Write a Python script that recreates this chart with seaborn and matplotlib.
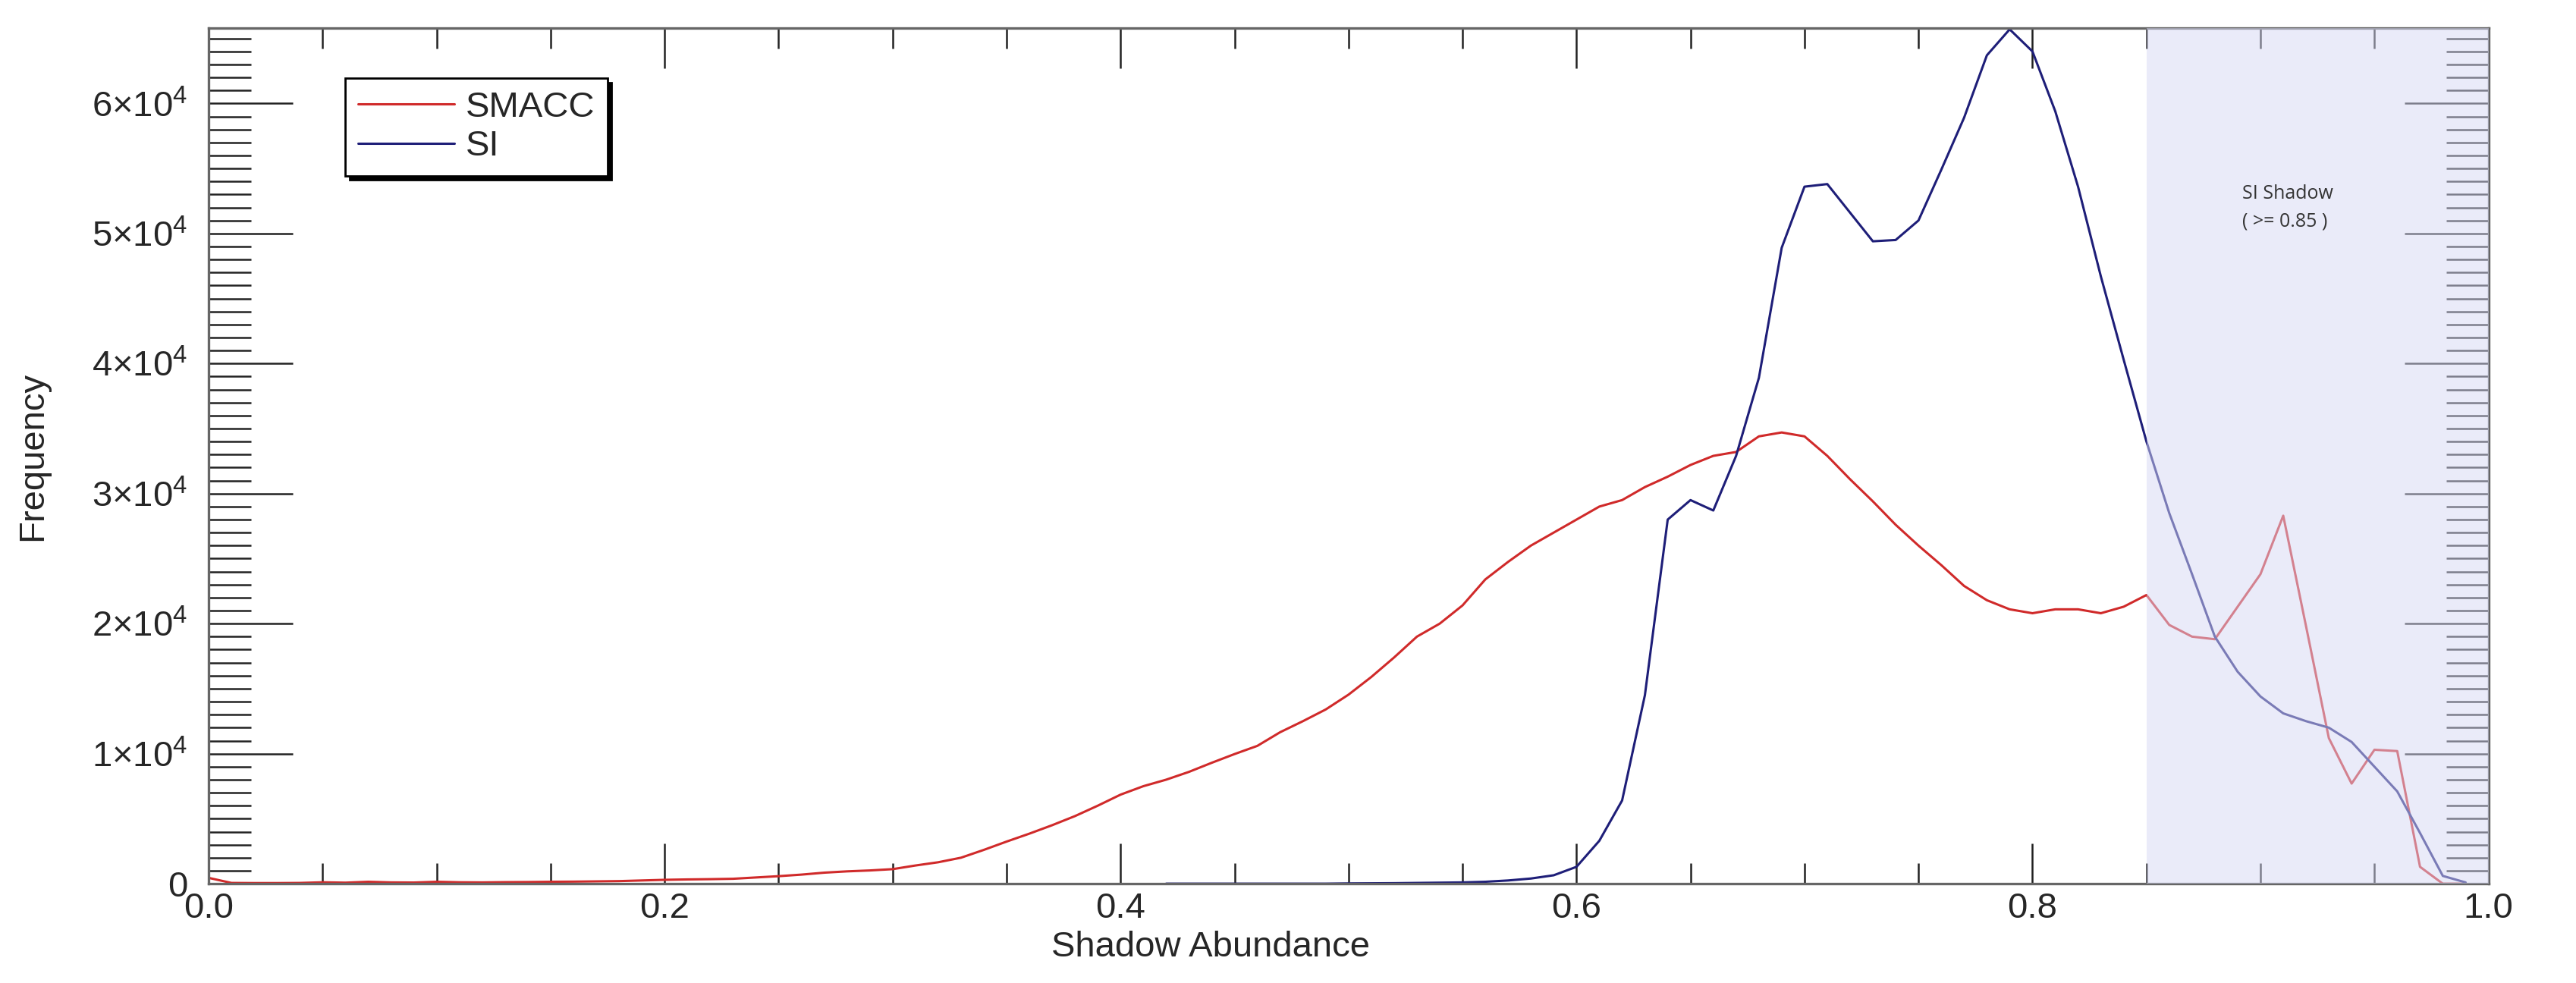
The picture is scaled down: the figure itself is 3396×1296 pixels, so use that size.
import numpy as np
import pandas as pd
import matplotlib
matplotlib.use('Agg')
import matplotlib.pyplot as plt
import seaborn as sns
from matplotlib.ticker import MultipleLocator

# bin centres of the shadow abundance histogram
abundance = [
    0.00, 0.01, 0.02, 0.03, 0.04, 0.05, 0.06, 0.07, 0.08, 0.09,
    0.10, 0.11, 0.12, 0.13, 0.14, 0.15, 0.16, 0.17, 0.18, 0.19,
    0.20, 0.21, 0.22, 0.23, 0.24, 0.25, 0.26, 0.27, 0.28, 0.29,
    0.30, 0.31, 0.32, 0.33, 0.34, 0.35, 0.36, 0.37, 0.38, 0.39,
    0.40, 0.41, 0.42, 0.43, 0.44, 0.45, 0.46, 0.47, 0.48, 0.49,
    0.50, 0.51, 0.52, 0.53, 0.54, 0.55, 0.56, 0.57, 0.58, 0.59,
    0.60, 0.61, 0.62, 0.63, 0.64, 0.65, 0.66, 0.67, 0.68, 0.69,
    0.70, 0.71, 0.72, 0.73, 0.74, 0.75, 0.76, 0.77, 0.78, 0.79,
    0.80, 0.81, 0.82, 0.83, 0.84, 0.85, 0.86, 0.87, 0.88, 0.89,
    0.90, 0.91, 0.92, 0.93, 0.94, 0.95, 0.96, 0.97, 0.98, 0.99,
]

smacc_freq = [
    450, 60, 50, 50, 60, 110, 80, 150, 100, 90,
    150, 110, 100, 120, 130, 150, 160, 180, 200, 250,
    300, 330, 350, 380, 480, 580, 700, 850, 950, 1020,
    1120, 1400, 1650, 2000, 2600, 3240, 3850, 4500, 5200, 6000,
    6850, 7500, 8000, 8600, 9300, 9970, 10600, 11650, 12500, 13400,
    14540, 15900, 17400, 19000, 20000, 21400, 23400, 24750, 26000, 27000,
    28000, 29000, 29500, 30500, 31300, 32200, 32900, 33200, 34400, 34700,
    34400, 32900, 31100, 29400, 27600, 26000, 24500, 22900, 21800, 21100,
    20800, 21100, 21100, 20800, 21300, 22200, 19900, 19000, 18800, 21300,
    23800, 28300, 19800, 11200, 7700, 10300, 10200, 1300, 0, 0,
]

# SI curve only starts at 0.42
si_first_bin = 42
si_freq = [
    0, 0, 0, 0, 0, 0, 0, 0,
    20, 30, 40, 60, 80, 100, 150, 250, 400, 650,
    1300, 3300, 6400, 14500, 28000, 29500, 28700, 32900, 38900, 48900,
    53600, 53800, 51600, 49400, 49500, 51000, 54900, 58900, 63700, 65700,
    64000, 59400, 53600, 46700, 40300, 34000, 28500, 23800, 19000, 16300,
    14400, 13100, 12500, 12000, 10900, 9000, 7100, 3900, 600, 100,
]

xticks = [0.0, 0.2, 0.4, 0.6, 0.8, 1.0]
xtick_labels = ['0.0', '0.2', '0.4', '0.6', '0.8', '1.0']
yticks = [0, 10000, 20000, 30000, 40000, 50000, 60000]
ytick_labels = ['0'] + [r'$\mathregular{%d{\times}10^{4}}$' % k for k in range(1, 7)]

shadow_threshold = 0.85

sns.set_style('white')
plt.rcParams['font.family'] = ['Liberation Sans', 'DejaVu Sans']
plt.rcParams['mathtext.fontset'] = 'custom'
plt.rcParams['mathtext.rm'] = 'Liberation Sans'

red = '#d02a2a'
navy = '#1e1e78'

smacc_df = pd.DataFrame({'abundance': abundance, 'freq': smacc_freq})
si_df = pd.DataFrame({'abundance': abundance[si_first_bin:], 'freq': si_freq})

fig, ax = plt.subplots(figsize=(16.98, 6.48), dpi=200)
fig.subplots_adjust(left=0.081, right=0.966, top=0.9715, bottom=0.101)

sns.lineplot(data=smacc_df, x='abundance', y='freq', color=red, lw=1.1,
             label='SMACC', ax=ax)
sns.lineplot(data=si_df, x='abundance', y='freq', color=navy, lw=1.1,
             label='SI', ax=ax)

# shaded SI shadow zone sits over the lines
ax.axvspan(shadow_threshold, 1.0, color='#d7d9f5', alpha=0.5, lw=0, zorder=3)
ax.text(0.892, 52000, 'SI Shadow\n( >= 0.85 )', fontsize=9,
        family=['Open Sans', 'DejaVu Sans'], color='#333333',
        ha='left', va='center', linespacing=1.6, zorder=4)

ax.set_xlim(0, 1)
ax.set_ylim(0, 65800)
ax.set_xticks(xticks)
ax.set_xticklabels(xtick_labels)
ax.xaxis.set_minor_locator(MultipleLocator(0.05))
ax.set_yticks(yticks)
ax.set_yticklabels(ytick_labels)
ax.yaxis.set_minor_locator(MultipleLocator(1000))

ax.tick_params(axis='both', which='both', direction='in',
               left=True, bottom=True, top=True, right=True,
               color='#222222', width=0.9)
ax.tick_params(axis='x', which='major', length=19, pad=4, labelsize=17)
ax.tick_params(axis='x', which='minor', length=9.7)
ax.tick_params(axis='y', which='major', length=40, pad=10, labelsize=17)
ax.tick_params(axis='y', which='minor', length=20)
for s in ax.spines.values():
    s.set_color('#666666')
    s.set_linewidth(1.2)

ax.set_xlabel('Shadow Abundance', fontsize=17)
ax.xaxis.set_label_coords(0.4395, -0.055)
ax.set_ylabel('Frequency', fontsize=17)
ax.yaxis.set_label_coords(-0.07, 0.5)

leg = ax.legend(loc='upper left', bbox_to_anchor=(0.060, 0.941), borderaxespad=0,
                frameon=True, fancybox=False, edgecolor='black', framealpha=1,
                shadow={'color': 'black', 'alpha': 1}, fontsize=17,
                handlelength=2.7, handletextpad=0.3, borderpad=0.35,
                labelspacing=0.15)
leg.get_frame().set_linewidth(1.0)

fig.savefig('out.png', dpi=200, facecolor='white')
